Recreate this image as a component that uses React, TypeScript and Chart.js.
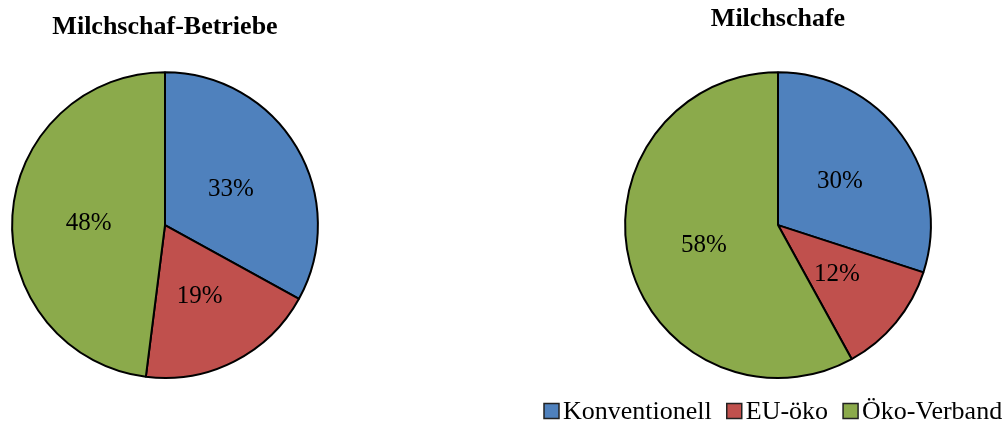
import React, { useEffect, useRef } from "react";
import { Chart, registerables } from "chart.js";

Chart.register(...registerables);

// Shares of farms and of dairy sheep by production type (percent)
const categories = ["Konventionell", "EU-öko", "Öko-Verband"];
const betriebeValues = [33, 19, 48];
const schafeValues = [30, 12, 58];
const titleBetriebe = "Milchschaf-Betriebe";
const titleSchafe = "Milchschafe";

const sliceColors = ["#4F81BD", "#C0504D", "#8BAA4B"];
const serif = "'Liberation Serif', 'Times New Roman', serif";

// Writes the percentage into the middle of each slice
const sliceLabels = {
  id: "sliceLabels",
  afterDatasetsDraw(chart: any, _args: any, opts: any) {
    const ctx = chart.ctx;
    const meta = chart.getDatasetMeta(0);
    const values = chart.data.datasets[0].data;
    const dy = (opts && opts.dy) || 0;
    ctx.save();
    ctx.font = `25px ${serif}`;
    ctx.fillStyle = "#000";
    ctx.textAlign = "center";
    ctx.textBaseline = "middle";
    meta.data.forEach((arc: any, i: number) => {
      const p = arc.getCenterPoint();
      ctx.fillText(`${values[i]}%`, p.x, p.y + dy);
    });
    ctx.restore();
  },
};

// Horizontal legend row with small bordered squares
const rowLegend = {
  id: "rowLegend",
  afterDraw(chart: any, _args: any, opts: any) {
    if (!opts || !opts.show) return;
    const ctx = chart.ctx;
    ctx.save();
    ctx.font = `26px ${serif}`;
    ctx.textBaseline = "middle";
    ctx.textAlign = "left";
    let x = opts.x;
    const y = opts.y;
    const box = 15;
    categories.forEach((label, i) => {
      ctx.fillStyle = sliceColors[i];
      ctx.fillRect(x, y - box / 2, box, box);
      ctx.strokeStyle = "#222";
      ctx.lineWidth = 1.5;
      ctx.strokeRect(x, y - box / 2, box, box);
      ctx.fillStyle = "#000";
      ctx.fillText(label, x + box + 4, y + 1);
      x += box + 4 + ctx.measureText(label).width + 15;
    });
    ctx.restore();
  },
};

type PieProps = {
  values: number[];
  title: string;
  width: number;
  left: number;
  pad: { left: number; right: number; top: number; bottom: number };
  titlePad: { top: number; bottom: number };
  labelDy: number;
  legend?: { x: number; y: number };
};

function PieChart({ values, title, width, left, pad, titlePad, labelDy, legend }: PieProps) {
  const ref = useRef<HTMLCanvasElement | null>(null);
  useEffect(() => {
    if (!ref.current) return;
    const chart = new Chart(ref.current, {
      type: "pie",
      data: {
        labels: categories,
        datasets: [
          {
            data: values,
            backgroundColor: sliceColors,
            borderColor: "#000",
            borderWidth: 2,
          },
        ],
      },
      options: {
        responsive: false,
        animation: false,
        layout: { padding: { left: pad.left, right: pad.right, top: 0, bottom: pad.bottom } },
        plugins: {
          legend: { display: false },
          tooltip: { enabled: false },
          title: {
            display: true,
            text: title,
            color: "#000",
            font: { family: serif, size: 26, weight: "bold", lineHeight: 1.2 },
            padding: { top: titlePad.top, bottom: titlePad.bottom },
          },
          sliceLabels: { dy: labelDy },
          rowLegend: legend ? { show: true, x: legend.x, y: legend.y } : { show: false },
        } as any,
      },
      plugins: [sliceLabels, rowLegend],
    });
    return () => chart.destroy();
  }, []);
  return (
    <canvas
      ref={ref}
      width={width}
      height={421}
      style={{ position: "absolute", left, top: 0, width, height: 421 }}
    />
  );
}

export default function App() {
  return (
    <div style={{ position: "absolute", left: 0, top: 0, width: 1008, height: 421, background: "#fff" }}>
      <PieChart
        values={betriebeValues}
        title={titleBetriebe}
        width={340}
        left={0}
        pad={{ left: 0, right: 10, top: 0, bottom: 42 }}
        titlePad={{ top: 12, bottom: 28 }}
        labelDy={3}
      />
      <PieChart
        values={schafeValues}
        title={titleSchafe}
        width={478}
        left={530}
        pad={{ left: 80, right: 62, top: 0, bottom: 42 }}
        titlePad={{ top: 4, bottom: 36 }}
        labelDy={1}
        legend={{ x: 14, y: 411 }}
      />
    </div>
  );
}
